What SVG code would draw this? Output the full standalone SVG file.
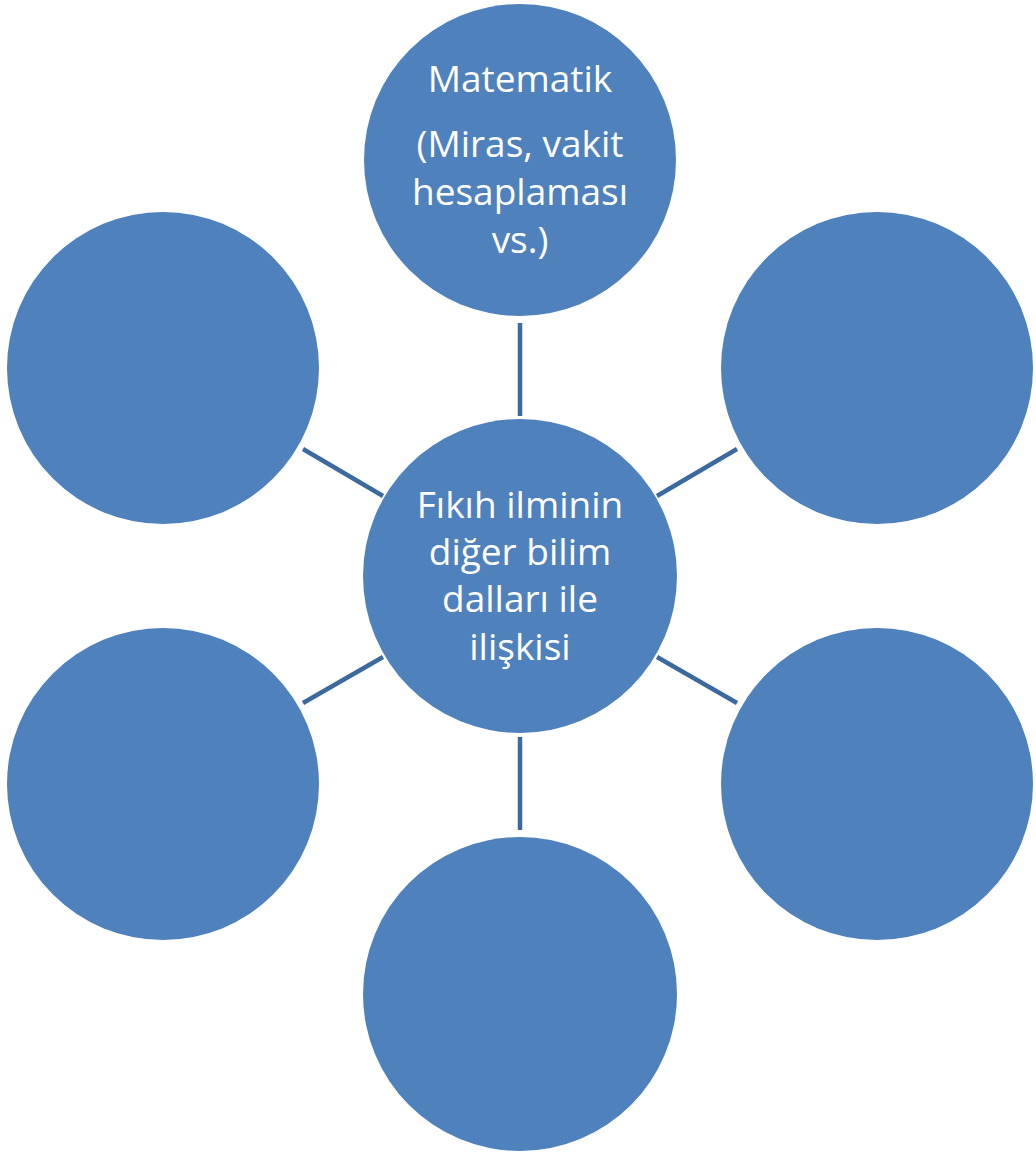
<svg xmlns="http://www.w3.org/2000/svg" width="1036" height="1156" viewBox="0 0 1036 1156">
<style>
.node{fill:#4f81bd;}
.lbl{fill:#ffffff;font-family:"Open Sans","Noto Sans",sans-serif;font-size:37px;text-anchor:middle;}
.conn line{stroke:#3d6a9e;stroke-width:4.5;}
</style>
<rect width="1036" height="1156" fill="#ffffff"/>
<g id="connectors" class="conn">
<line x1="520" y1="323" x2="520" y2="416"/>
<line x1="520" y1="737" x2="520" y2="830"/>
<line x1="303" y1="449" x2="383" y2="496"/>
<line x1="737" y1="449" x2="657" y2="496"/>
<line x1="303" y1="703" x2="383" y2="657"/>
<line x1="737" y1="703" x2="657" y2="657"/>
</g>
<g id="center">
<circle class="node" cx="520" cy="576" r="157"/>
<text class="lbl" x="520" y="518">Fıkıh ilminin</text>
<text class="lbl" x="520" y="565">diğer bilim</text>
<text class="lbl" x="520" y="612">dalları ile</text>
<text class="lbl" x="520" y="660">ilişkisi</text>
</g>
<g id="top">
<circle class="node" cx="520" cy="160" r="156"/>
<text class="lbl" x="520" y="92">Matematik</text>
<text class="lbl" x="520" y="157">(Miras, vakit</text>
<text class="lbl" x="520" y="205">hesaplaması</text>
<text class="lbl" x="520" y="253">vs.)</text>
</g>
<g id="upper-left"><circle class="node" cx="163" cy="368" r="156"/></g>
<g id="upper-right"><circle class="node" cx="877" cy="368" r="156"/></g>
<g id="lower-left"><circle class="node" cx="163" cy="784" r="156"/></g>
<g id="lower-right"><circle class="node" cx="877" cy="784" r="156"/></g>
<g id="bottom"><circle class="node" cx="520" cy="994" r="157"/></g>
</svg>
